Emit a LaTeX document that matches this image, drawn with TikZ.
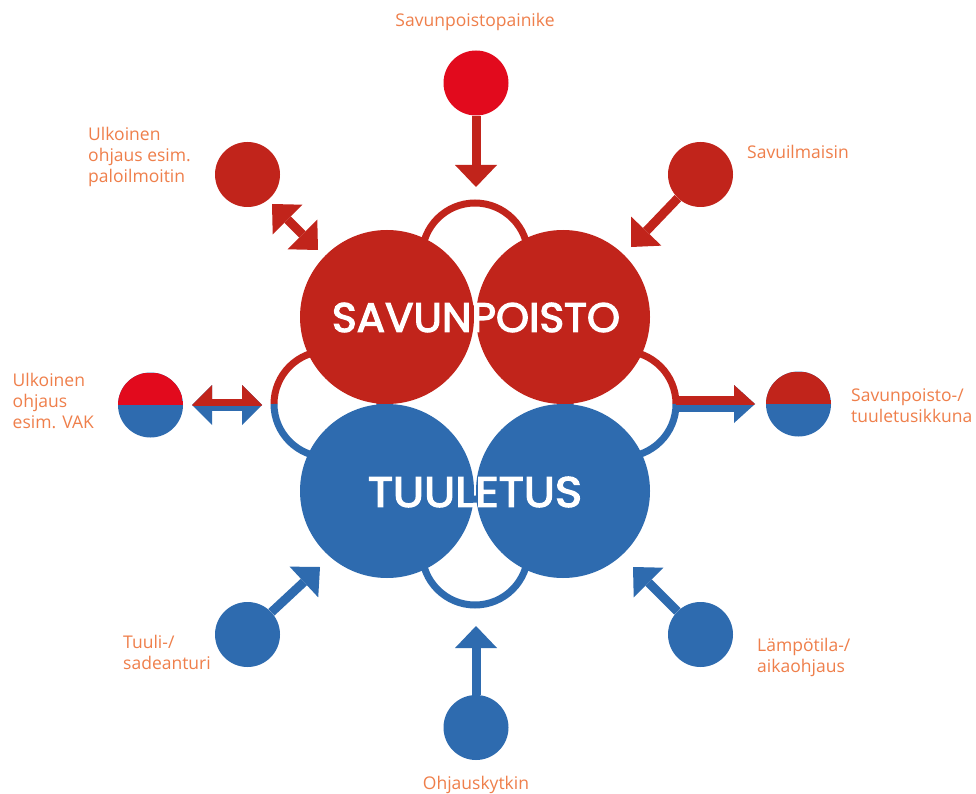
\documentclass[tikz,border=0pt]{standalone}
\usepackage{graphicx}
\usepackage{fontspec}
\setmainfont{Open Sans}
\newfontfamily\bigfont{Poppins}[FakeBold=3]
\usetikzlibrary{arrows.meta}
\definecolor{dred}{HTML}{C1241B}
\definecolor{bred}{HTML}{E20A1D}
\definecolor{cblue}{HTML}{2E6BAF}
\definecolor{lblc}{HTML}{EF7F4B}
\tikzset{
  big/.style={circle, minimum size=174pt, inner sep=0pt},
  sat/.style={circle, minimum size=65pt, inner sep=0pt},
  ring/.style={line width=7pt},
  conn/.style={line width=9pt, -{Triangle[width=42pt,length=22pt,line width=0pt]}},
  dconn/.style={line width=9pt, {Triangle[width=42pt,length=22pt,line width=0pt]}-{Triangle[width=42pt,length=22pt,line width=0pt]}},
  lconn/.style={line width=12pt, {Triangle[width=40pt,length=20pt,line width=0pt]}-{Triangle[width=40pt,length=20pt,line width=0pt]}},
  rconn/.style={line width=16pt, -{Triangle[width=38pt,length=21pt,line width=0pt]}},
  lbl/.style={text=lblc, font=\fontsize{17.5}{21}\selectfont, align=left, inner sep=0pt, anchor=base west},
  halfsat/.style={sat, fill=cblue, path picture={\fill[#1] (path picture bounding box.north west) rectangle (path picture bounding box.east);}},
  bigtxt/.style={text=white, inner sep=0pt}
}
\begin{document}
\begin{tikzpicture}[x=1pt,y=-1pt]
\fill[white] (0,0) rectangle (976,794);
\useasboundingbox (0,0) rectangle (976,794);
% rings
\draw[ring, dred] (475,256) circle[radius=53pt];
\draw[ring, cblue] (475,552) circle[radius=53pt];
\draw[ring, dred] (327,404) ++(180:53pt) arc[start angle=180,end angle=0,radius=53pt];
\draw[ring, cblue] (327,404) ++(180:53pt) arc[start angle=180,end angle=360,radius=53pt];
\draw[ring, dred] (623,404) ++(0:53pt) arc[start angle=0,end angle=180,radius=53pt];
\draw[ring, cblue] (623,404) ++(0:53pt) arc[start angle=0,end angle=-180,radius=53pt];
% big circles
\node[big, fill=dred] (rl) at (387,317) {};
\node[big, fill=dred] (rr) at (563,317) {};
\node[big, fill=cblue] (bl) at (387,491) {};
\node[big, fill=cblue] (br) at (563,491) {};
\node[bigtxt] (tsav) at (476,317.5) {\resizebox{288pt}{29pt}{\bigfont SAVUNPOISTO}};
\node[bigtxt] (ttuu) at (475,492) {\resizebox{214pt}{30pt}{\bigfont TUULETUS}};
% top
\node[sat, fill=bred] (s1) at (476,83) {};
\coordinate (t1) at (476,187);
\draw[conn, dred] (s1) -- (t1);
% top left
\node[sat, fill=dred] (s2) at (247.5,174.5) {};
\coordinate (a2) at (272,204);
\coordinate (b2) at (318,250);
\draw[dconn, dred] (a2) -- (b2);
% top right
\node[sat, fill=dred] (s3) at (700.5,174.5) {};
\coordinate (t3) at (631,247);
\draw[conn, dred] (s3) -- (t3);
% left
\node[halfsat=bred] (s4) at (150.5,405) {};
\coordinate (a4) at (192,405);
\coordinate (b4) at (262,405);
\draw[lconn, cblue] (a4) -- (b4);
\begin{scope}
\clip (180,350) rectangle (280,405);
\draw[lconn, dred] (a4) -- (b4);
\end{scope}
% right
\node[halfsat=dred] (s5) at (798.5,404) {};
\coordinate (r0) at (676,404);
\coordinate (t5) at (755,404);
\draw[rconn, cblue] (r0) -- (t5);
\begin{scope}
\clip (660,350) rectangle (770,404);
\draw[rconn, dred] (r0) -- (t5);
\end{scope}
% bottom left
\node[sat, fill=cblue] (s6) at (247.5,634.5) {};
\coordinate (t6) at (320,567);
\draw[conn, cblue] (s6) -- (t6);
% bottom right
\node[sat, fill=cblue] (s7) at (700.5,634.5) {};
\coordinate (t7) at (633,567);
\draw[conn, cblue] (s7) -- (t7);
% bottom
\node[sat, fill=cblue] (s8) at (476,727.5) {};
\coordinate (t8) at (476,626);
\draw[conn, cblue] (s8) -- (t8);
% labels (base anchor = baseline of last line)
\node[lbl, anchor=base] (l1) at (475,27) {Savunpoistopainike};
\node[lbl] (l2) at (88,182.5) {Ulkoinen\\ohjaus esim.\\paloilmoitin};
\node[lbl] (l3) at (747,159) {Savuilmaisin};
\node[lbl] (l4) at (12.5,428.5) {Ulkoinen\\ohjaus\\esim. VAK};
\node[lbl] (l5) at (851,422) {Savunpoisto-/\\tuuletusikkuna};
\node[lbl] (l6) at (123,669) {Tuuli-/\\sadeanturi};
\node[lbl] (l7) at (757,672) {Lämpötila-/\\aikaohjaus};
\node[lbl, anchor=base] (l8) at (476,789) {Ohjauskytkin};
\end{tikzpicture}
\end{document}
